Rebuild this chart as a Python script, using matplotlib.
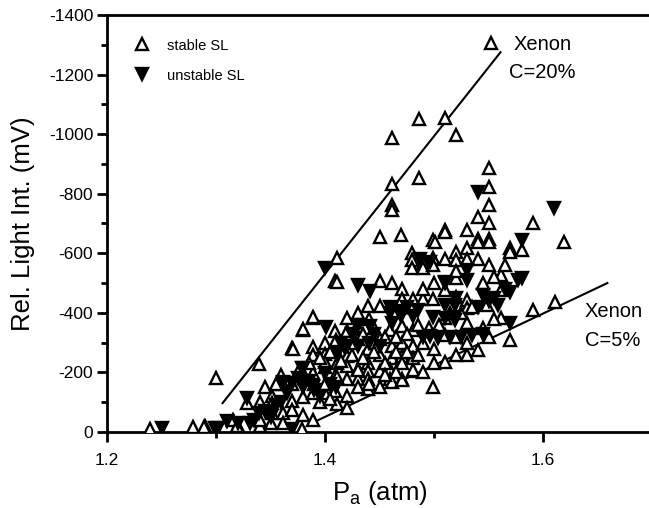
import matplotlib
matplotlib.use("Agg")
import matplotlib.pyplot as plt
from matplotlib.lines import Line2D
from matplotlib.ticker import MultipleLocator

plt.rcParams["font.family"] = ["Liberation Sans", "DejaVu Sans"]
plt.rcParams["axes.unicode_minus"] = False
plt.rcParams["mathtext.fontset"] = "custom"
plt.rcParams["mathtext.rm"] = "Liberation Sans"

# stable SL points (Pa in atm, light intensity in mV)
stable_x = [1.486, 1.510, 1.520, 1.461, 1.461, 1.486, 1.550, 1.550, 1.550, 1.461,
            1.461, 1.540, 1.550, 1.591, 1.450, 1.470, 1.510, 1.530, 1.540, 1.550,
            1.540, 1.550, 1.570, 1.570, 1.581, 1.619, 1.520, 1.530, 1.499, 1.510,
            1.501, 1.480, 1.480, 1.480, 1.490, 1.490, 1.499, 1.499, 1.411, 1.510,
            1.520, 1.530, 1.540, 1.550, 1.561, 1.520, 1.561, 1.510, 1.520, 1.530,
            1.549, 1.530, 1.561, 1.510, 1.530, 1.591, 1.611, 1.510, 1.520, 1.550,
            1.570, 1.540, 1.530, 1.510, 1.499,
            1.409, 1.450, 1.461, 1.471, 1.471, 1.481, 1.490, 1.499, 1.411, 1.439,
            1.450, 1.430, 1.420, 1.389, 1.380, 1.409, 1.429, 1.460, 1.471, 1.481,
            1.400, 1.430, 1.450, 1.461, 1.471, 1.481, 1.389, 1.370, 1.400, 1.420,
            1.439, 1.439, 1.450, 1.461, 1.471, 1.481, 1.420, 1.430, 1.439, 1.450,
            1.460, 1.471, 1.481, 1.400, 1.400, 1.409, 1.420, 1.430, 1.439, 1.439,
            1.460, 1.471, 1.400, 1.409, 1.420, 1.411, 1.420, 1.400, 1.389, 1.389,
            1.411, 1.411, 1.430, 1.461, 1.471, 1.481, 1.450,
            1.300, 1.339, 1.371, 1.380, 1.389, 1.361, 1.370, 1.328, 1.340, 1.351,
            1.351, 1.361, 1.361, 1.370, 1.380, 1.389, 1.370, 1.380, 1.389, 1.379,
            1.290, 1.320, 1.340, 1.350, 1.239, 1.279, 1.289, 1.316, 1.319, 1.340,
            1.351, 1.390, 1.380,
            1.395, 1.405, 1.415, 1.425, 1.435, 1.445, 1.455, 1.465, 1.475, 1.485,
            1.490, 1.500, 1.425, 1.435, 1.445, 1.455, 1.465, 1.475, 1.485, 1.495,
            1.505, 1.515, 1.525, 1.535, 1.545, 1.555, 1.565, 1.520, 1.500, 1.490,
            1.440, 1.420, 1.410, 1.375, 1.385, 1.360, 1.345, 1.355, 1.395, 1.405,
            1.430, 1.440, 1.455, 1.465, 1.490, 1.500, 1.520, 1.530, 1.545, 1.555]
stable_y = [-1050, -1054, -997, -987, -833, -853, -886, -822, -762, -762,
            -745, -722, -702, -702, -655, -661, -678, -678, -648, -648,
            -638, -638, -618, -604, -611, -638, -604, -618, -645, -671,
            -638, -601, -577, -551, -567, -551, -584, -561, -584, -581,
            -577, -581, -581, -561, -527, -517, -477, -477, -453, -443,
            -426, -416, -383, -383, -366, -410, -436, -326, -319, -319,
            -309, -275, -258, -235, -151,
            -507, -507, -500, -480, -446, -446, -446, -446, -504, -423,
            -423, -400, -383, -383, -342, -339, -356, -342, -356, -342,
            -299, -312, -312, -289, -299, -289, -285, -282, -262, -255,
            -279, -232, -258, -248, -255, -248, -222, -211, -205, -205,
            -211, -232, -205, -218, -235, -188, -178, -178, -178, -144,
            -178, -178, -131, -138, -121, -94, -81, -161, -258, -198,
            -232, -185, -208, -168, -175, -208, -151,
            -181, -228, -279, -346, -386, -161, -161, -97, -101, -121,
            -97, -64, -30, -104, -117, -131, -74, -57, -40, -10,
            -20, -20, -20, -30, -10, -17, -17, -40, -20, -40,
            -64, -161, -198,
            -250, -270, -240, -260, -250, -270, -230, -270, -270, -260,
            -300, -280, -300, -330, -350, -320, -320, -330, -360, -350,
            -360, -400, -400, -420, -500, -520, -560, -540, -500, -480,
            -380, -340, -310, -200, -230, -190, -150, -160, -100, -110,
            -150, -160, -190, -200, -200, -230, -260, -300, -350, -380]

# unstable SL points
unstable_x = [1.540, 1.610, 1.581, 1.400, 1.430, 1.441, 1.510, 1.471, 1.481, 1.401,
              1.499, 1.510, 1.519, 1.418, 1.490, 1.496, 1.504, 1.420, 1.411, 1.461,
              1.441, 1.530, 1.581, 1.530, 1.570, 1.510, 1.519, 1.559, 1.510, 1.519,
              1.570, 1.577, 1.379, 1.380, 1.400, 1.328, 1.339, 1.331, 1.310, 1.299,
              1.302, 1.250, 1.370, 1.361, 1.370, 1.389, 1.350, 1.360, 1.445, 1.430,
              1.487, 1.496, 1.550, 1.540, 1.460, 1.470,
              1.385, 1.390, 1.395, 1.380, 1.375, 1.405, 1.410, 1.365, 1.355, 1.345,
              1.335, 1.320, 1.515, 1.525, 1.535, 1.545, 1.475, 1.485, 1.460, 1.430,
              1.425, 1.440, 1.450, 1.415, 1.520, 1.545, 1.555, 1.565]
unstable_y = [-806, -752, -645, -551, -493, -473, -504, -400, -389, -352,
              -386, -383, -386, -282, -319, -322, -316, -289, -262, -366,
              -356, -544, -517, -510, -470, -500, -426, -426, -426, -376,
              -366, -510, -215, -215, -198, -114, -64, -30, -37, -13,
              -13, -13, -10, -168, -164, -150, -50, -100, -330, -290,
              -580, -571, -440, -420, -420, -390,
              -170, -140, -120, -150, -180, -160, -150, -130, -90, -70,
              -40, -30, -320, -320, -325, -330, -420, -410, -400, -360,
              -330, -300, -290, -300, -450, -460, -450, -480]

# guide lines for Xenon at C=20% and C=5%
fit20_x = [1.306, 1.561]
fit20_y = [-97, -1275]
fit5_x = [1.388, 1.659]
fit5_y = [-30, -500]

fig = plt.figure(figsize=(6.49, 5.08), dpi=100)
ax = fig.add_axes([0.1649, 0.1496, 0.8398, 0.8209])

mk = dict(linestyle="none", markersize=8.5, markeredgewidth=1.7, color="black")
ax.plot(stable_x, stable_y, marker="^", markerfacecolor="white", zorder=3, **mk)
ax.plot(unstable_x, unstable_y, marker="v", markerfacecolor="black", zorder=3, **mk)
ax.plot(fit20_x, fit20_y, color="black", linewidth=1.5, zorder=2)
ax.plot(fit5_x, fit5_y, color="black", linewidth=1.5, zorder=2)

ax.set_xlim(1.2, 1.7)
ax.set_ylim(0, -1400)
ax.xaxis.set_major_locator(MultipleLocator(0.2))
ax.xaxis.set_minor_locator(MultipleLocator(0.1))
ax.yaxis.set_major_locator(MultipleLocator(200))
ax.yaxis.set_minor_locator(MultipleLocator(100))
ax.xaxis.set_major_formatter(plt.FuncFormatter(lambda v, p: f"{v:.1f}"))

for s in ax.spines.values():
    s.set_linewidth(2)
ax.tick_params(which="major", direction="out", length=7, width=2, labelsize=12.5, pad=3)
ax.tick_params(which="minor", direction="out", length=4, width=2)
ax.tick_params(axis="x", which="major", pad=8)

ax.set_xlabel("P$_\\mathregular{a}$ (atm)", fontsize=18.5, labelpad=8)
ax.set_ylabel("Rel. Light Int. (mV)", fontsize=18.5, labelpad=10)

st = Line2D([], [], marker="^", markerfacecolor="white", **mk)
un = Line2D([], [], marker="v", markerfacecolor="black", **mk)
leg = ax.legend([st, un], ["stable SL", "unstable SL"], loc="upper left",
                bbox_to_anchor=(0.027, 0.975), frameon=False, fontsize=10.5,
                handlelength=1.0, handletextpad=1.2, labelspacing=1.1, numpoints=1)
ax.add_artist(leg)
ax.legend([st], ["Xenon"], loc="upper left", bbox_to_anchor=(0.653, 0.995),
          frameon=False, fontsize=14.5, handlelength=1.0, handletextpad=0.6, numpoints=1)

ax.text(0.737, 0.863, "C=20%", transform=ax.transAxes, fontsize=14.5, va="center")
ax.text(0.877, 0.288, "Xenon", transform=ax.transAxes, fontsize=14.5, va="center")
ax.text(0.877, 0.22, "C=5%", transform=ax.transAxes, fontsize=14.5, va="center")

fig.savefig("out.png", dpi=100)
